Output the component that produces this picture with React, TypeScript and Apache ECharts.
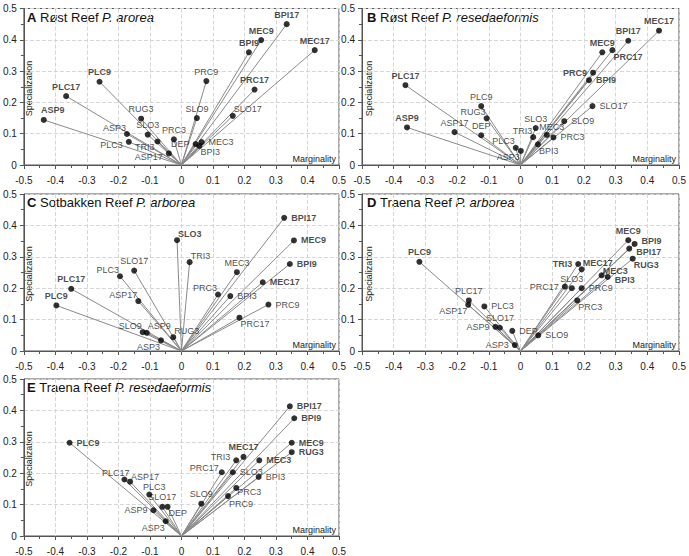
import React, { useEffect, useRef } from "react";
import * as echarts from "echarts";

// ---------- DATA ----------
const panelA_names = ["PLC9", "PLC17", "ASP9", "RUG3", "ASP3", "SLO3", "PLC3", "TRI3", "ASP17", "PRC3", "DEP", "MEC3", "BPI3", "BPI17", "MEC9", "BPI9", "MEC17", "PRC9", "PRC17", "SLO9", "SLO17"];
const panelA_marginality = [-0.26, -0.366, -0.437, -0.128, -0.173, -0.107, -0.167, -0.076, -0.04, -0.024, 0.045, 0.064, 0.057, 0.334, 0.253, 0.214, 0.423, 0.079, 0.232, 0.049, 0.163];
const panelA_specialization = [0.266, 0.22, 0.144, 0.148, 0.099, 0.097, 0.074, 0.075, 0.037, 0.082, 0.067, 0.073, 0.061, 0.45, 0.399, 0.36, 0.367, 0.268, 0.241, 0.15, 0.157];

const panelB_names = ["PLC17", "ASP9", "PLC9", "RUG3", "ASP17", "DEP", "PLC3", "ASP3", "TRI3", "SLO3", "MEC3", "PRC3", "BPI3", "SLO9", "SLO17", "BPI9", "PRC9", "MEC9", "PRC17", "BPI17", "MEC17"];
const panelB_marginality = [-0.363, -0.358, -0.124, -0.107, -0.208, -0.124, -0.015, 0.001, 0.04, 0.048, 0.083, 0.104, 0.055, 0.138, 0.227, 0.216, 0.229, 0.258, 0.29, 0.34, 0.437];
const panelB_specialization = [0.255, 0.12, 0.188, 0.149, 0.105, 0.095, 0.055, 0.045, 0.089, 0.118, 0.096, 0.088, 0.066, 0.14, 0.188, 0.271, 0.295, 0.36, 0.367, 0.397, 0.429];

const panelC_names = ["SLO3", "PLC3", "SLO17", "PLC17", "ASP17", "PLC9", "SLO9", "ASP9", "ASP3", "RUG3", "TRI3", "BPI17", "MEC9", "BPI9", "MEC3", "MEC17", "PRC3", "BPI3", "PRC9", "PRC17"];
const panelC_marginality = [-0.014, -0.195, -0.15, -0.35, -0.137, -0.397, -0.123, -0.11, -0.065, -0.026, 0.026, 0.326, 0.357, 0.344, 0.176, 0.258, 0.116, 0.155, 0.276, 0.184];
const panelC_specialization = [0.353, 0.238, 0.256, 0.198, 0.159, 0.145, 0.06, 0.058, 0.034, 0.044, 0.283, 0.424, 0.352, 0.277, 0.251, 0.219, 0.18, 0.175, 0.148, 0.106];

const panelD_names = ["PLC9", "PLC17", "ASP17", "PLC3", "SLO17", "ASP9", "DEP", "ASP3", "MEC9", "BPI9", "BPI17", "RUG3", "TRI3", "MEC17", "MEC3", "BPI3", "PRC17", "SLO3", "PRC9", "PRC3", "SLO9"];
const panelD_marginality = [-0.319, -0.163, -0.165, -0.114, -0.065, -0.079, -0.026, -0.018, 0.34, 0.36, 0.343, 0.354, 0.182, 0.193, 0.256, 0.275, 0.14, 0.162, 0.193, 0.179, 0.056];
const panelD_specialization = [0.284, 0.161, 0.147, 0.142, 0.074, 0.077, 0.064, 0.019, 0.353, 0.341, 0.326, 0.294, 0.277, 0.26, 0.241, 0.236, 0.205, 0.2, 0.2, 0.161, 0.05];

const panelE_names = ["PLC9", "PLC17", "ASP17", "PLC3", "SLO17", "DEP", "ASP9", "ASP3", "BPI17", "BPI9", "MEC9", "RUG3", "MEC17", "TRI3", "MEC3", "PRC17", "SLO3", "BPI3", "PRC3", "PRC9", "SLO9"];
const panelE_marginality = [-0.355, -0.181, -0.163, -0.102, -0.061, -0.044, -0.089, -0.05, 0.344, 0.358, 0.35, 0.35, 0.197, 0.174, 0.247, 0.128, 0.163, 0.245, 0.174, 0.148, 0.063];
const panelE_specialization = [0.297, 0.18, 0.173, 0.132, 0.093, 0.093, 0.082, 0.047, 0.413, 0.375, 0.297, 0.267, 0.252, 0.241, 0.241, 0.203, 0.203, 0.188, 0.153, 0.127, 0.103];

const panelA_bold = ["PLC9", "PLC17", "ASP9", "BPI17", "MEC9", "BPI9", "MEC17", "PRC17"];
const panelB_bold = ["PLC17", "ASP9", "MEC17", "BPI17", "MEC9", "PRC17", "PRC9", "BPI9"];
const panelC_bold = ["SLO3", "PLC17", "PLC9", "BPI17", "MEC9", "BPI9", "MEC17"];
const panelD_bold = ["PLC9", "MEC9", "BPI9", "BPI17", "RUG3", "TRI3", "MEC17", "MEC3", "BPI3"];
const panelE_bold = ["PLC9", "BPI17", "BPI9", "MEC9", "RUG3", "MEC17", "MEC3"];

const panelLetters = ["A", "B", "C", "D", "E"];
const panelSites = ["Røst Reef", "Røst Reef", "Sotbakken Reef", "Traena Reef", "Traena Reef"];
const panelSpecies = ["P. arorea", "P. resedaeformis", "P. arborea", "P. arborea", "P. resedaeformis"];

const xAxisName = "Marginality";
const yAxisName = "Specialization";

// ---------- LABEL PLACEMENT (layout only: "side[,dx,dy]") ----------
const placeA: Record<string, string> = { PLC9: "t", PLC17: "t", ASP9: "t,9,0", RUG3: "t", ASP3: "tl", SLO3: "t", PLC3: "l,0,3", TRI3: "l,3,5", ASP17: "l,0,4", PRC3: "t", DEP: "l", MEC3: "r", BPI3: "br", BPI17: "t", MEC9: "t", BPI9: "t", MEC17: "t", PRC9: "t", PRC17: "t", SLO9: "t", SLO17: "tr" };
const placeB: Record<string, string> = { PLC17: "t", ASP9: "t", PLC9: "t", RUG3: "tl", ASP17: "t", DEP: "t", PLC3: "tl", ASP3: "bl", TRI3: "tl", SLO3: "t", MEC3: "t,5,2", PRC3: "r", BPI3: "br", SLO9: "r", SLO17: "r", BPI9: "r", PRC9: "l", MEC9: "t", PRC17: "br", BPI17: "t", MEC17: "t" };
const placeC: Record<string, string> = { SLO3: "tr", PLC3: "tl", SLO17: "t", PLC17: "t", ASP17: "tl", PLC9: "t", SLO9: "tl", ASP9: "tr", ASP3: "bl", RUG3: "tr", TRI3: "tr", BPI17: "r", MEC9: "r", BPI9: "r", MEC3: "t", MEC17: "r", PRC3: "tl", BPI3: "r", PRC9: "r", PRC17: "br" };
const placeD: Record<string, string> = { PLC9: "t", PLC17: "t", ASP17: "bl", PLC3: "r", SLO17: "t", ASP9: "l", DEP: "r", ASP3: "l", MEC9: "t", BPI9: "r,0,-3", BPI17: "r,0,3", RUG3: "br", TRI3: "l", MEC17: "tr", MEC3: "tr,0,2", BPI3: "r,0,3", PRC17: "l", SLO3: "t", PRC9: "r", PRC3: "br", SLO9: "r" };
const placeE: Record<string, string> = { PLC9: "r", PLC17: "tl,6,0", ASP17: "tr,0,2", PLC3: "t,5,2", SLO17: "t", DEP: "br", ASP9: "l", ASP3: "bl", BPI17: "r", BPI9: "r", MEC9: "r", RUG3: "r", MEC17: "t", TRI3: "l,0,-3", MEC3: "r", PRC17: "l,3,-4.5", SLO3: "r", BPI3: "r", PRC3: "br,0,-2", PRC9: "br,0,1", SLO9: "t" };

const panels = [
  { names: panelA_names, x: panelA_marginality, y: panelA_specialization, bold: panelA_bold, place: placeA },
  { names: panelB_names, x: panelB_marginality, y: panelB_specialization, bold: panelB_bold, place: placeB },
  { names: panelC_names, x: panelC_marginality, y: panelC_specialization, bold: panelC_bold, place: placeC },
  { names: panelD_names, x: panelD_marginality, y: panelD_specialization, bold: panelD_bold, place: placeD },
  { names: panelE_names, x: panelE_marginality, y: panelE_specialization, bold: panelE_bold, place: placeE },
];

const grids = [
  { left: 22, top: 8.5, width: 317, height: 156.5 },
  { left: 362, top: 8.5, width: 317, height: 156.5 },
  { left: 22, top: 194, width: 317, height: 157 },
  { left: 362, top: 194, width: 317, height: 157 },
  { left: 22, top: 379, width: 317, height: 157 },
];

const FONT = "'Liberation Sans', Arial, sans-serif";

function labelPos(spec: string): any {
  const parts = spec.split(",");
  const code = parts[0];
  const dx = parts.length > 1 ? parseFloat(parts[1]) : 0;
  const dy = parts.length > 2 ? parseFloat(parts[2]) : 0;
  let base: any;
  switch (code) {
    case "t": base = { position: "top", distance: 2 }; break;
    case "b": base = { position: "bottom", distance: 2 }; break;
    case "l": base = { position: "left", distance: 3 }; break;
    case "r": base = { position: "right", distance: 4 }; break;
    case "tl": base = { position: [2, 1], align: "right", verticalAlign: "bottom" }; break;
    case "tr": base = { position: [4, 1], align: "left", verticalAlign: "bottom" }; break;
    case "bl": base = { position: [2, 5], align: "right", verticalAlign: "top" }; break;
    case "br": base = { position: [4, 5], align: "left", verticalAlign: "top" }; break;
    default: base = { position: "top" };
  }
  if (dx || dy) base.offset = [dx, dy];
  return base;
}

const fmt = (v: number) => (Math.abs(v) < 1e-9 ? "0" : String(+v.toFixed(1)));

function buildOption() {
  const axisColor = "#555";
  const xAxis = grids.map((_, i) => ({
    type: "value", gridIndex: i, min: -0.5, max: 0.5, interval: 0.1,
    axisLine: { show: true, onZero: false, lineStyle: { color: axisColor } },
    axisTick: { show: true, length: 4, lineStyle: { color: axisColor } },
    minorTick: { show: true, splitNumber: 2, length: 3, lineStyle: { color: axisColor } },
    axisLabel: { fontSize: 10, color: "#222", margin: 10, fontFamily: FONT, formatter: fmt },
    splitLine: { show: true, lineStyle: { color: "#d6d6d6", type: "dashed" } },
  }));
  const yAxis = grids.map((_, i) => ({
    type: "value", gridIndex: i, min: 0, max: 0.5, interval: 0.1,
    axisLine: { show: true, onZero: false, lineStyle: { color: axisColor } },
    axisTick: { show: true, length: 4, lineStyle: { color: axisColor } },
    minorTick: { show: true, splitNumber: 2, length: 3, lineStyle: { color: axisColor } },
    axisLabel: { fontSize: 10, color: "#222", margin: 7, fontFamily: FONT, formatter: fmt },
    splitLine: { show: true, lineStyle: { color: "#d6d6d6", type: "dashed" } },
  }));

  const series: any[] = [];
  panels.forEach((p, i) => {
    const pts = p.names.map((n, j) => [p.x[j], p.y[j]]);
    series.push({
      type: "custom", xAxisIndex: i, yAxisIndex: i, silent: true, z: 2,
      data: pts,
      renderItem: (params: any, api: any) => {
        const o = api.coord([0, 0]);
        const q = api.coord([api.value(0), api.value(1)]);
        return { type: "line", shape: { x1: o[0], y1: o[1], x2: q[0], y2: q[1] }, style: { stroke: "#8a8a8a", lineWidth: 1 } };
      },
    });
    series.push({
      type: "scatter", xAxisIndex: i, yAxisIndex: i, z: 3, symbolSize: 6,
      itemStyle: { color: "#000" },
      data: p.names.map((n, j) => ({
        name: n, value: [p.x[j], p.y[j]],
        label: {
          show: true, formatter: "{b}", fontSize: 9, fontFamily: FONT, color: "#1a1a1a",
          fontWeight: p.bold.includes(n) ? "bold" : "normal",
          ...labelPos(p.place[n] || "t"),
        },
      })),
    });
  });

  const graphic: any[] = [];
  grids.forEach((g, i) => {
    graphic.push({
      type: "text", x: g.left + 5, y: g.top + 8.5, silent: true,
      style: {
        text: `{b|${panelLetters[i]}} {n|${panelSites[i]}} {it|${panelSpecies[i]}}`,
        verticalAlign: "middle", fill: "#111", fontFamily: FONT, fontSize: 13,
        rich: {
          b: { fontWeight: "bold", fontSize: 13, fontFamily: FONT, fill: "#111" },
          n: { fontSize: 13, fontFamily: FONT, fill: "#111" },
          it: { fontStyle: "italic", fontSize: 13, fontFamily: FONT, fill: "#111" },
        },
      },
    });
    graphic.push({
      type: "text", x: g.left + 6.5, y: g.top + 80, rotation: Math.PI / 2, silent: true,
      style: { text: yAxisName, fontSize: 9, fontFamily: FONT, fill: "#222", align: "center", verticalAlign: "middle" },
    });
    graphic.push({
      type: "text", x: g.left + g.width - 3, y: g.top + g.height - 6.5, silent: true,
      style: { text: xAxisName, fontSize: 9, fontFamily: FONT, fill: "#222", align: "right", verticalAlign: "middle" },
    });
  });

  return {
    animation: false,
    backgroundColor: "#fff",
    textStyle: { fontFamily: FONT },
    grid: grids.map((g) => ({ ...g, show: true, borderColor: "#555", borderWidth: 1, backgroundColor: "transparent", containLabel: false })),
    xAxis, yAxis, series, graphic,
  };
}

export default function App() {
  const ref = useRef<HTMLDivElement>(null);
  useEffect(() => {
    if (!ref.current) return;
    const chart = echarts.init(ref.current, null, { renderer: "svg" });
    chart.setOption(buildOption() as any);
    return () => chart.dispose();
  }, []);
  return <div ref={ref} style={{ position: "absolute", left: 0, top: 0, width: 689, height: 556 }} />;
}
